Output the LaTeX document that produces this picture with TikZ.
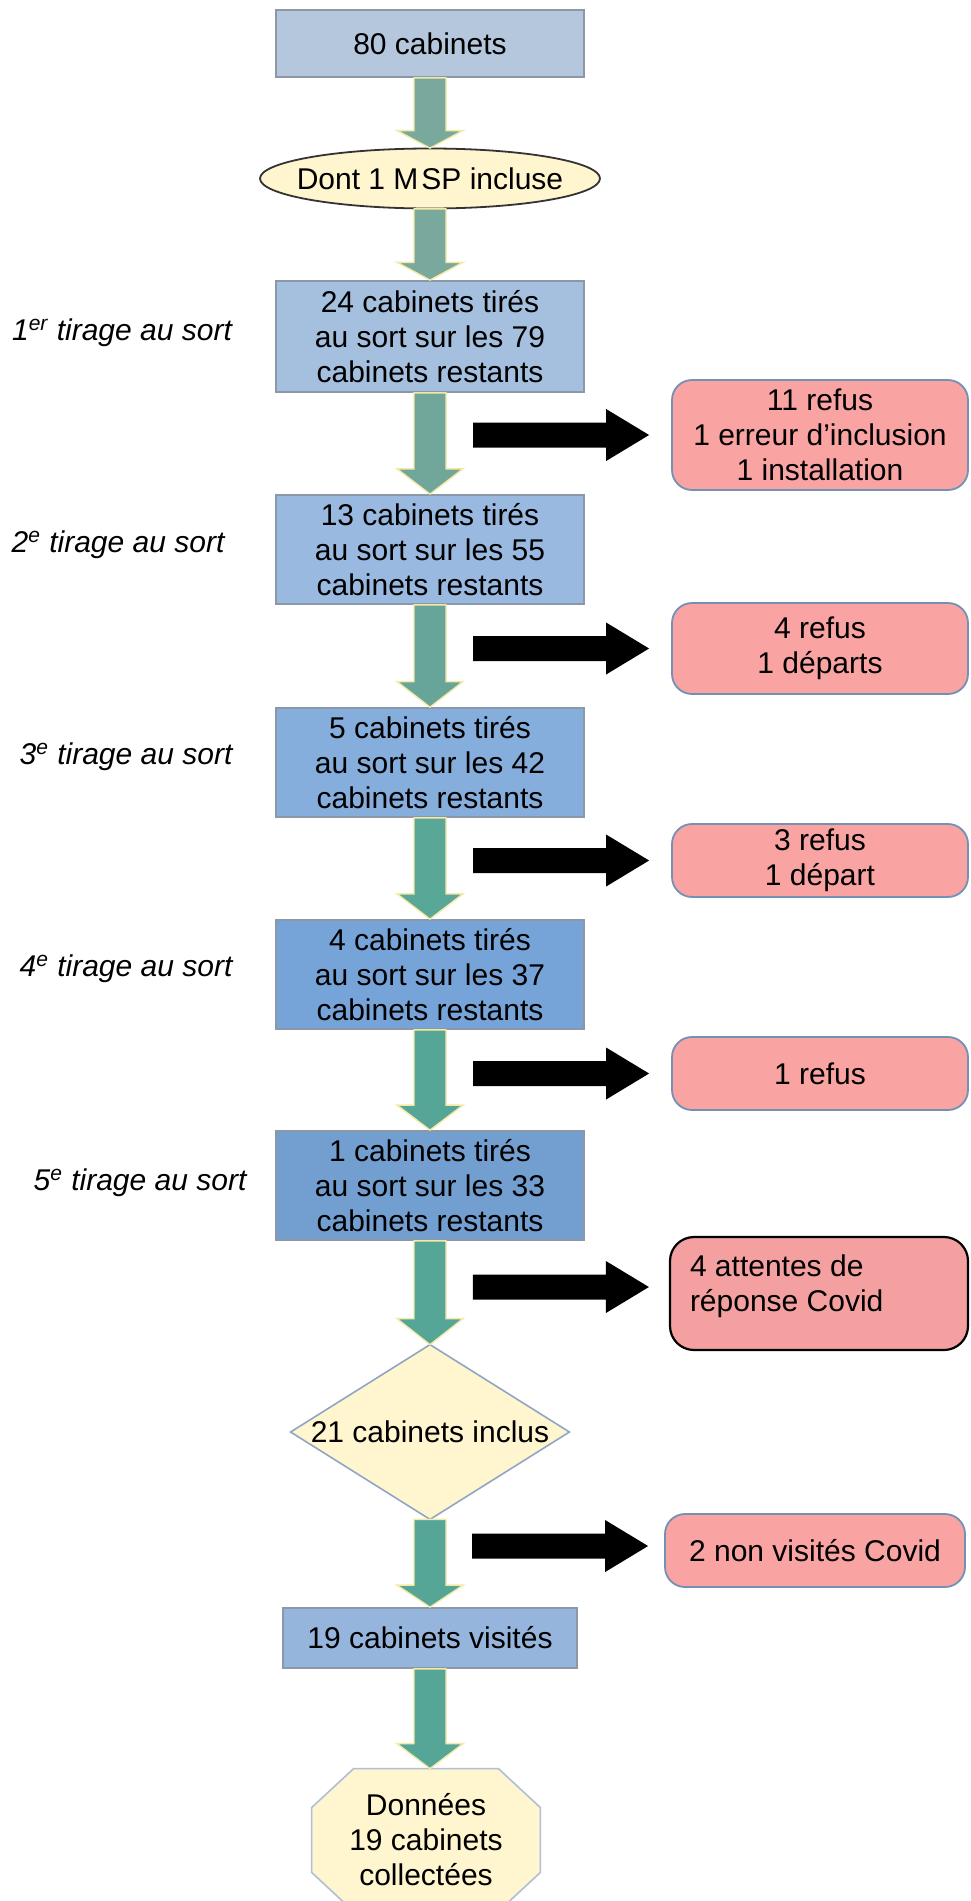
\documentclass[tikz,border=0pt]{standalone}
\usepackage{fontspec}
\setmainfont{Liberation Sans}
\usetikzlibrary{calc,backgrounds}
\definecolor{c80}{HTML}{B4C7DC}
\definecolor{c24}{HTML}{A5C0DF}
\definecolor{c13}{HTML}{99B9E0}
\definecolor{c5}{HTML}{86AEDD}
\definecolor{c4}{HTML}{77A4D8}
\definecolor{c1}{HTML}{729FCF}
\definecolor{c19}{HTML}{95B5DD}
\definecolor{boxedge}{HTML}{8A98A8}
\definecolor{yel}{HTML}{FFF5CE}
\definecolor{diaedge}{HTML}{8FA6C4}
\definecolor{octedge}{HTML}{AEBFD6}
\definecolor{redfill}{HTML}{F9A3A3}
\definecolor{rededge}{HTML}{7391B6}
\definecolor{rfillfive}{HTML}{F4A0A1}
\definecolor{gA}{HTML}{79A89D}
\definecolor{gB}{HTML}{71A79B}
\definecolor{gC}{HTML}{67A499}
\definecolor{gD}{HTML}{58A797}
\definecolor{gE}{HTML}{55A697}
\definecolor{arredge}{HTML}{F4E9A6}
\newcommand\grnarrow[3]{\path[draw=arredge,line width=0.7pt,fill=#3]
  let \p1=(#1.south), \p2=(#2.north), \n1={\y2+0.25*(\y1-\y2)} in
  (\x1-8pt,\y1) -- (\x1-8pt,\n1) -- (\x1-16.5pt,\n1) -- (\x1,\y2)
  -- (\x1+16.5pt,\n1) -- (\x1+8pt,\n1) -- (\x1+8pt,\y1) -- cycle;}
\newcommand\blkarrow[1]{\fill[black] let \p1=(#1) in
  (\x1-88pt,\y1-6.25pt) -- (\x1-21.5pt,\y1-6.25pt) -- (\x1-21.5pt,\y1-13pt)
  -- (\x1,\y1) -- (\x1-21.5pt,\y1+13pt) -- (\x1-21.5pt,\y1+6.25pt)
  -- (\x1-88pt,\y1+6.25pt) -- cycle;}
\begin{document}
\begin{tikzpicture}[x=0.5pt,y=-0.5pt,
  every node/.style={font=\fontsize{15}{17.5}\selectfont},
  bluebox/.style={draw=boxedge,line width=0.9pt,inner sep=0pt,minimum width=154pt,align=center},
  redbox/.style={draw=rededge,fill=redfill,rounded corners=10pt,line width=0.9pt,inner sep=0pt,minimum width=148pt,align=center},
  rfive/.style={draw=black,fill=rfillfive,rounded corners=12pt,line width=1.1pt,inner sep=0pt,minimum width=149pt},
  shapebox/.style={inner sep=0pt,align=center},
  lbl/.style={font=\fontsize{15}{17.5}\selectfont\itshape}]
\useasboundingbox (0,0) rectangle (970,1901);
\clip (0,0) rectangle (970,1901);

% main column
\node[bluebox,fill=c80,minimum height=33.5pt] (b80) at (430,43.5) {80 cabinets};
\node[shapebox,minimum width=171pt,minimum height=30pt] (ell) at (430,178.5) {Dont 1 M\kern1.5pt SP incluse};
\node[bluebox,fill=c24,minimum height=55.5pt] (b24) at (430,336.5) {24 cabinets tirés\\au sort sur les 79\\cabinets restants};
\node[bluebox,fill=c13,minimum height=54.5pt] (b13) at (430,549.5) {13 cabinets tirés\\au sort sur les 55\\cabinets restants};
\node[bluebox,fill=c5,minimum height=54.5pt] (b5) at (430,762.5) {5 cabinets tirés\\au sort sur les 42\\cabinets restants};
\node[bluebox,fill=c4,minimum height=54.5pt] (b4) at (430,974.5) {4 cabinets tirés\\au sort sur les 37\\cabinets restants};
\node[bluebox,fill=c1,minimum height=54.5pt] (b1) at (430,1185.5) {1 cabinets tirés\\au sort sur les 33\\cabinets restants};
\node[shapebox,minimum width=139pt,minimum height=87pt] (dia) at (430,1432) {21 cabinets inclus};
\node[bluebox,fill=c19,minimum width=147pt,minimum height=30pt] (b19) at (430,1638) {19 cabinets visités};
\node[shapebox,minimum width=114pt,minimum height=71pt] (oct) at (426,1840) {Données\\19 cabinets\\collectées};

\begin{pgfonlayer}{background}
\fill[white] (0,0) rectangle (970,1901);
\filldraw[fill=yel,draw=black!80,line width=0.9pt] (ell.center) ellipse [x radius=85pt,y radius=15pt];
\filldraw[fill=yel,draw=diaedge,line width=0.8pt] (dia.north) -- (dia.east) -- (dia.south) -- (dia.west) -- cycle;
\filldraw[fill=yel,draw=octedge,line width=0.8pt]
  ($(oct.north west)+(42,0)$) -- ($(oct.north east)+(-42,0)$) -- ($(oct.north east)+(0,39)$)
  -- ($(oct.south east)+(0,-39)$) -- ($(oct.south east)+(-42,0)$) -- ($(oct.south west)+(42,0)$)
  -- ($(oct.south west)+(0,-39)$) -- ($(oct.north west)+(0,39)$) -- cycle;
\end{pgfonlayer}

% side labels
\node[lbl] (l1) at (122,333) {1\textsuperscript{er} tirage au sort};
\node[lbl] (l2) at (118,545) {2\textsuperscript{e} tirage au sort};
\node[lbl] (l3) at (126,757) {3\textsuperscript{e} tirage au sort};
\node[lbl] (l4) at (126,969) {4\textsuperscript{e} tirage au sort};
\node[lbl] (l5) at (140,1183) {5\textsuperscript{e} tirage au sort};

% exclusion boxes
\node[redbox,minimum height=55pt] (r1) at (820,435) {11 refus\\1 erreur d’inclusion\\1 installation};
\node[redbox,minimum height=45.5pt] (r2) at (820,648.5) {4 refus\\1 départs};
\node[redbox,minimum height=36.5pt] (r3) at (820,860.5) {3 refus\\1 départ};
\node[redbox,minimum height=36.5pt] (r4) at (820,1073.5) {1 refus};
\node[rfive,minimum height=56.5pt] (r5) at (819,1293.5) {\parbox[c][56.5pt][t]{129pt}{\vspace*{9pt}4 attentes de\\réponse Covid}};
\node[redbox,minimum height=36.5pt,minimum width=150pt] (r6) at (815,1550.5) {2 non visités Covid};

% green arrows
\grnarrow{b80}{ell}{gA}
\grnarrow{ell}{b24}{gA}
\grnarrow{b24}{b13}{gB}
\grnarrow{b13}{b5}{gC}
\grnarrow{b5}{b4}{gD}
\grnarrow{b4}{b1}{gE}
\grnarrow{b1}{dia}{gE}
\grnarrow{dia}{b19}{gE}
\grnarrow{b19}{oct}{gE}

% black arrows
\path (r1.west) ++(-22,0) coordinate (t1);
\path (r2.west) ++(-22,0) coordinate (t2);
\path (r3.west) ++(-22,0) coordinate (t3);
\path (r4.west) ++(-22,0) coordinate (t4);
\path (r5.west) ++(-20,-6.5) coordinate (t5);
\path (r6.west) ++(-16,-4.5) coordinate (t6);
\blkarrow{t1}
\blkarrow{t2}
\blkarrow{t3}
\blkarrow{t4}
\blkarrow{t5}
\blkarrow{t6}
\end{tikzpicture}
\end{document}
